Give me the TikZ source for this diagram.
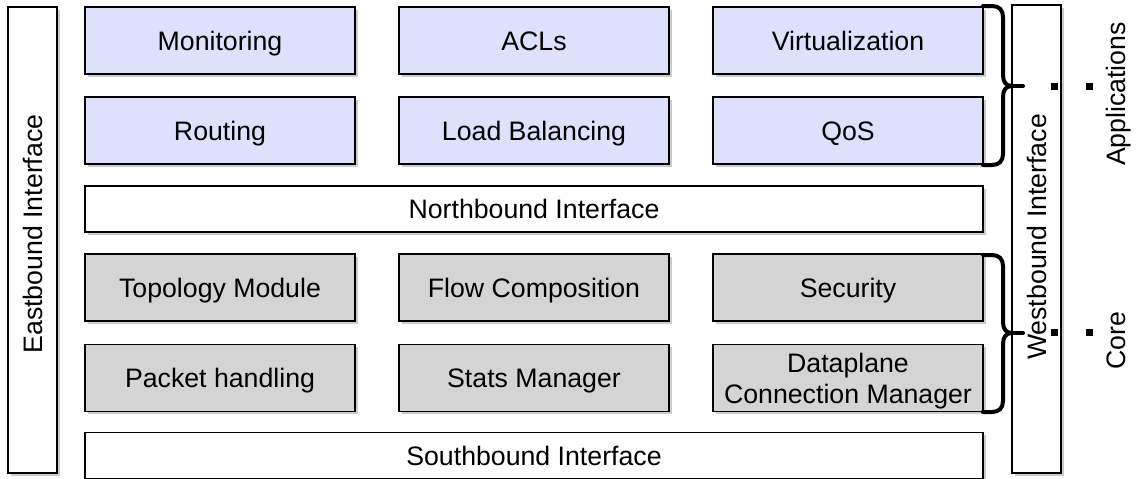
\documentclass[tikz,border=0pt]{standalone}
\usepackage{fontspec}
\setmainfont{Liberation Sans}
\usetikzlibrary{shadows}
\definecolor{appfill}{HTML}{DDE1FB}
\definecolor{corefill}{HTML}{D4D4D4}
\begin{document}
\begin{tikzpicture}[x=1pt,y=-1pt,
  every node/.style={font=\fontsize{26.7}{31}\selectfont, inner sep=0pt, outer sep=0pt},
  layerbox/.style={draw=black, line width=1.5pt, rectangle,
    drop shadow={shadow xshift=2.5pt, shadow yshift=-2.5pt, fill=black!45, opacity=0.45}},
  oneline/.style={text height=21.5pt, text depth=2pt},
  modframe/.style={layerbox, minimum width=270pt, minimum height=67pt},
  appbox/.style={modframe, oneline, fill=appfill},
  corebox/.style={modframe, oneline, fill=corefill},
  coreframe/.style={modframe, fill=corefill},
  twolines/.style={align=center, font=\fontsize{26.7}{31}\selectfont},
  ifacebox/.style={layerbox, oneline, fill=white, minimum width=898pt, minimum height=46pt},
  sidebox/.style={layerbox, fill=white, minimum width=49pt, minimum height=466pt},
  sidetext/.style={rotate=90, oneline},
  curly/.style={draw=black, line width=4pt, line join=round, line cap=round},
  markerfill/.style={fill=black},
  grouplabel/.style={rotate=90, oneline}
]
\useasboundingbox (0,0) rectangle (1140,479);

% side interfaces
\node[sidebox] (east) at (32.5,240) {};
\node[sidetext] (eastlbl) at (32.5,234) {Eastbound Interface};
\node[sidebox, minimum height=468pt] (west) at (1036.5,239) {};
\node[sidetext] (westlbl) at (1036.5,237) {Westbound Interface};

% application modules
\node[appbox] (mon)  at (220,40.5)  {Monitoring};
\node[appbox] (acl)  at (534,40.5)  {ACLs};
\node[appbox] (virt) at (848,40.5)  {Virtualization};
\node[appbox] (rout) at (220,130.5) {Routing};
\node[appbox] (lb)   at (534,130.5) {Load Balancing};
\node[appbox] (qos)  at (848,130.5) {QoS};

% northbound interface
\node[ifacebox] (north) at (534,209) {Northbound Interface};

% core modules
\node[corebox] (topo) at (220,287.5) {Topology Module};
\node[corebox] (flow) at (534,287.5) {Flow Composition};
\node[corebox] (sec)  at (848,287.5) {Security};
\node[corebox] (pkt)  at (220,378)   {Packet handling};
\node[corebox] (stat) at (534,378)   {Stats Manager};
\node[coreframe] (dcm) at (848,378)  {};
\node[twolines, yshift=-3pt] (dcmtext) at (dcm.center) {Dataplane\\Connection Manager};

% southbound interface
\node[ifacebox] (south) at (534,455.5) {Southbound Interface};

% curly brace grouping the applications
\draw[curly] (983,6) -- (992,6) .. controls (999,6) and (1003,10) .. (1003,17)
  -- (1003,75) .. controls (1003,82) and (1006,86) .. (1012,86)
  .. controls (1006,86) and (1003,90) .. (1003,97)
  -- (1003,154) .. controls (1003,161) and (999,165) .. (992,165) -- (983,165);
\draw[curly] (1012,86) -- (1023,86);

% curly brace grouping the core modules
\draw[curly] (983,255) -- (992,255) .. controls (999,255) and (1003,259) .. (1003,266)
  -- (1003,322) .. controls (1003,329) and (1006,333) .. (1012,333)
  .. controls (1006,333) and (1003,337) .. (1003,344)
  -- (1003,401) .. controls (1003,408) and (999,412) .. (992,412) -- (983,412);
\draw[curly] (1012,333) -- (1023,333);

% group markers and labels
\coordinate (ma1) at (1054,86);
\coordinate (ma2) at (1089,86);
\coordinate (mc1) at (1054,332);
\coordinate (mc2) at (1089,332);
\foreach \m in {ma1,ma2,mc1,mc2}
  \fill[markerfill] ([xshift=-3.5pt,yshift=-3.5pt]\m) rectangle ([xshift=3.5pt,yshift=3.5pt]\m);
\node[grouplabel] (applbl) at (1116,94) {Applications};
\node[grouplabel] (corelbl) at (1116,341) {Core};
\end{tikzpicture}
\end{document}
